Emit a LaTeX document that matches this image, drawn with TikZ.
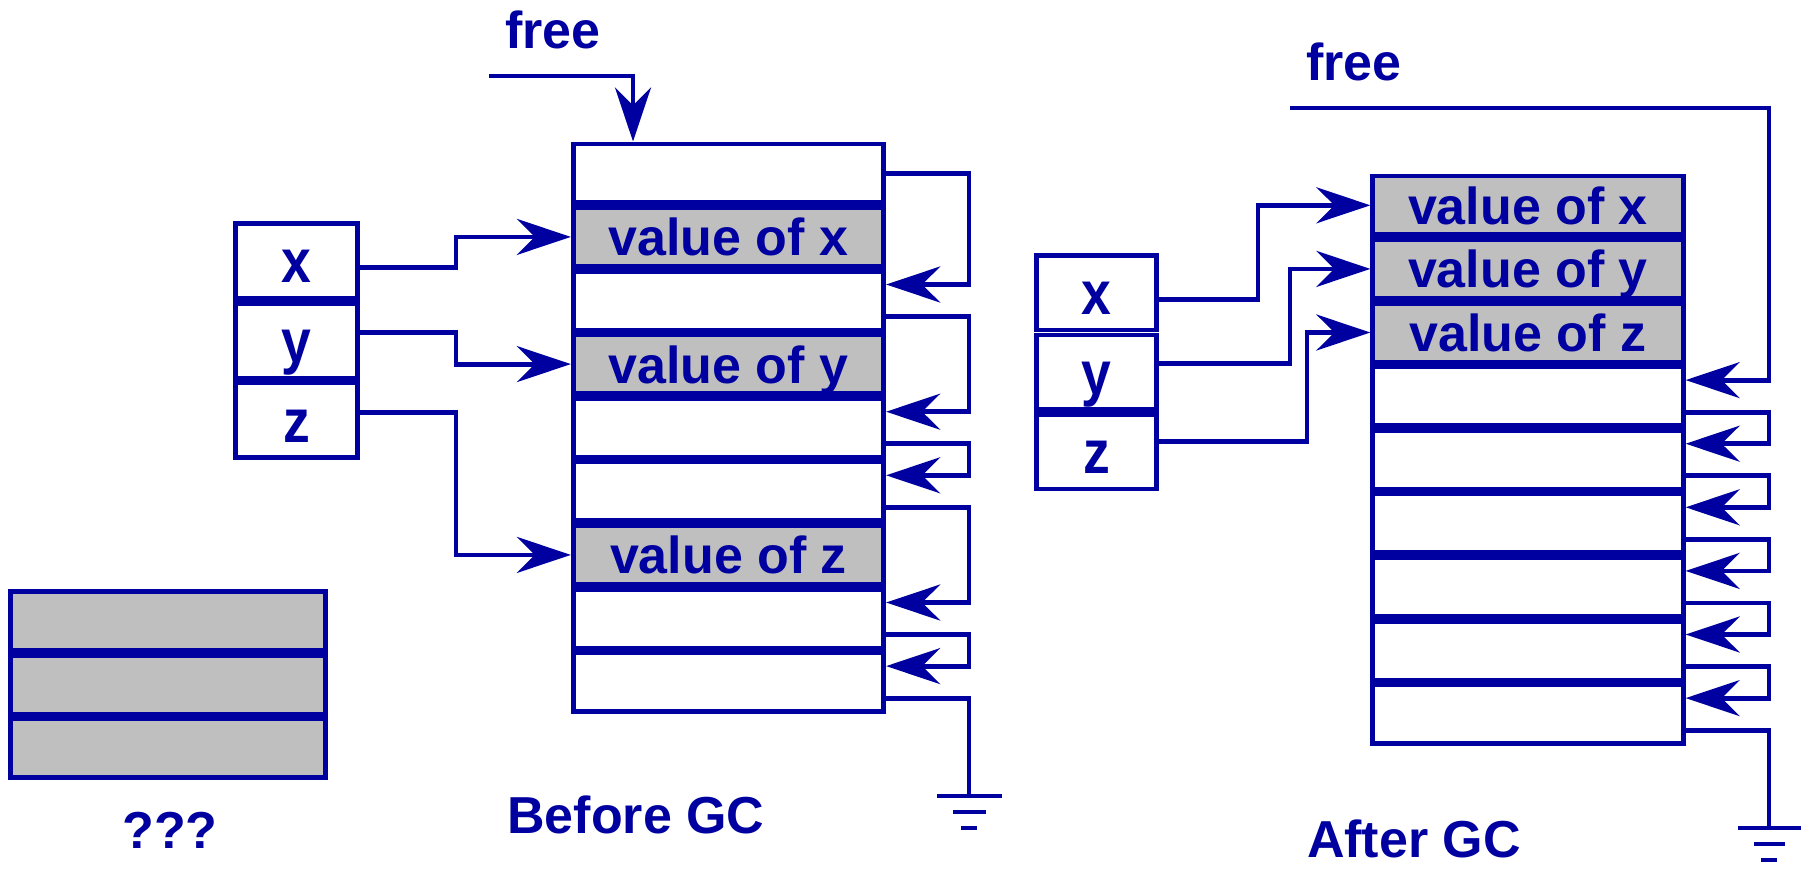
\documentclass[tikz,border=0pt]{standalone}
\usepackage{fontspec}
\setmainfont{Liberation Sans}
\usetikzlibrary{arrows.meta}
\definecolor{ink}{RGB}{0,0,160}
\definecolor{cellgray}{RGB}{191,191,191}
\begin{document}
\begin{tikzpicture}[x=0.5pt,y=-0.5pt,
  every node/.style={font=\fontsize{26}{30}\selectfont\bfseries, text=ink},
  cell/.style={draw=ink, line width=2.4pt, rectangle, minimum width=155.25pt,
    minimum height=29.4pt, inner sep=0pt, text height=19pt, text depth=0pt},
  full/.style={cell, fill=cellgray},
  var/.style={draw=ink, line width=2.4pt, rectangle, minimum width=61.25pt,
    minimum height=37.45pt, inner sep=0pt, text height=22pt, text depth=0pt},
  wire/.style={draw=ink, line width=2.4pt},
  ptr/.style={wire, -{Stealth[length=27pt,width=18pt,inset=9pt]}},
  lbl/.style={anchor=base, inner sep=0pt}
]
\useasboundingbox (0,0) rectangle (1804,868);

% ---------------- Before GC heap ----------------
\node[cell] (b1) at (728.5,173.3) {};
\node[full] (b2) at (728.5,236.9) {value of x};
\node[cell] (b3) at (728.5,300.5) {};
\node[full] (b4) at (728.5,364.1) {value of y};
\node[cell] (b5) at (728.5,427.7) {};
\node[cell] (b6) at (728.5,491.3) {};
\node[full] (b7) at (728.5,554.9) {value of z};
\node[cell] (b8) at (728.5,618.5) {};
\node[cell] (b9) at (728.5,682.1) {};

% ---------------- After GC heap ----------------
\node[full] (a1) at (1528,205.3) {value of x};
\node[full] (a2) at (1528,268.9) {value of y};
\node[full] (a3) at (1528,332.5) {value of z};
\node[cell] (a4) at (1528,396.1) {};
\node[cell] (a5) at (1528,459.7) {};
\node[cell] (a6) at (1528,523.3) {};
\node[cell] (a7) at (1528,586.9) {};
\node[cell] (a8) at (1528,650.5) {};
\node[cell] (a9) at (1528,714.1) {};

% ---------------- variable boxes ----------------
\node[var] (bx) at (296.5,260.85) {\scalebox{1.03}[1.18]{x}};
\node[var] (by) at (296.5,340.55) {\scalebox{1.03}[1.18]{y}};
\node[var] (bz) at (296.5,420.25) {\scalebox{1.03}[1.18]{z}};
\node[var,minimum width=60.25pt,minimum height=37.3pt] (ax) at (1096.5,292.75) {\scalebox{1.03}[1.18]{x}};
\node[var,minimum width=60.25pt,minimum height=37.3pt] (ay) at (1096.5,372.25) {\scalebox{1.03}[1.18]{y}};
\node[var,minimum width=60.25pt,minimum height=37.3pt] (az) at (1096.5,451.75) {\scalebox{1.03}[1.18]{z}};

% ---------------- unknown gray block ----------------
\node[full,minimum width=157.75pt,minimum height=29.45pt] (g1) at (168,620.85) {};
\node[full,minimum width=157.75pt,minimum height=29.45pt] (g2) at (168,684.55) {};
\node[full,minimum width=157.75pt,minimum height=29.45pt] (g3) at (168,748.25) {};

% ---------------- labels ----------------
\node[lbl] (bfree) at (553,48) {free};
\node[lbl] (afree) at (1354,80) {free};
\node[lbl] (bgc) at (636,833) {Before GC};
\node[lbl] (agc) at (1414,857) {After GC};
\node[lbl] (qqq) at (170,848) {???};

% ---------------- helper coordinates ----------------
\coordinate (bl) at (969,0);
\coordinate (al) at (1769,0);
\coordinate (bj) at (456,0);
\coordinate (ajx) at (1258,0);
\coordinate (ajy) at (1290,0);
\coordinate (ajz) at (1307,0);
\coordinate (bft) at (633,0);
\coordinate (bfs) at (489,76);
\coordinate (afs) at (1290,108);
\coordinate (bg) at (969,796);
\coordinate (ag) at (1769,828);
\foreach \i in {1,...,9}{
  \coordinate (b\i i) at ([yshift=8pt]b\i.east);
  \coordinate (b\i o) at ([yshift=-8pt]b\i.east);
  \coordinate (a\i i) at ([yshift=8pt]a\i.east);
  \coordinate (a\i o) at ([yshift=-8pt]a\i.east);
}
\coordinate (bxo) at ([yshift=-3.5pt]bx.east);
\coordinate (byo) at ([yshift=4pt]by.east);
\coordinate (bzo) at ([yshift=4pt]bz.east);
\coordinate (axo) at ([yshift=-3.5pt]ax.east);
\coordinate (ayo) at ([yshift=4.5pt]ay.east);
\coordinate (azo) at ([yshift=5pt]az.east);

% ---------------- Before: pointers ----------------
\draw[ptr] (bfs) -| (bft |- b1.north);
\draw[ptr] (bxo) -| (bj |- b2.west) -- (b2.west);
\draw[ptr] (byo) -| (bj |- b4.west) -- (b4.west);
\draw[ptr] (bzo) -| (bj |- b7.west) -- (b7.west);

% free list before
\draw[ptr] (b1.east) -- (bl |- b1.east) |- (b3i);
\draw[ptr] (b3o) -- (bl |- b3o) |- (b5i);
\draw[ptr] (b5o) -- (bl |- b5o) |- (b6i);
\draw[ptr] (b6o) -- (bl |- b6o) |- (b8i);
\draw[ptr] (b8o) -- (bl |- b8o) |- (b9i);
\draw[wire] (b9o) -- (bl |- b9o) -- (bg);
\draw[wire] ([xshift=-16.25pt]bg) -- ([xshift=16.25pt]bg);
\draw[wire] ([xshift=-8.25pt,yshift=-8pt]bg) -- ([xshift=8.25pt,yshift=-8pt]bg);
\draw[wire] ([xshift=-4pt,yshift=-16pt]bg) -- ([xshift=4pt,yshift=-16pt]bg);

% ---------------- After: pointers ----------------
\draw[ptr] (axo) -| (ajx |- a1.west) -- (a1.west);
\draw[ptr] (ayo) -| (ajy |- a2.west) -- (a2.west);
\draw[ptr] (azo) -| (ajz |- a3.west) -- (a3.west);
\draw[ptr] (afs) -| (al |- a4i) -- (a4i);

% free list after
\draw[ptr] (a4o) -- (al |- a4o) |- (a5i);
\draw[ptr] (a5o) -- (al |- a5o) |- (a6i);
\draw[ptr] (a6o) -- (al |- a6o) |- (a7i);
\draw[ptr] (a7o) -- (al |- a7o) |- (a8i);
\draw[ptr] (a8o) -- (al |- a8o) |- (a9i);
\draw[wire] (a9o) -- (al |- a9o) -- (ag);
\draw[wire] ([xshift=-15.75pt]ag) -- ([xshift=15.75pt]ag);
\draw[wire] ([xshift=-7.75pt,yshift=-8pt]ag) -- ([xshift=7.75pt,yshift=-8pt]ag);
\draw[wire] ([xshift=-4pt,yshift=-16pt]ag) -- ([xshift=4pt,yshift=-16pt]ag);
\end{tikzpicture}
\end{document}
